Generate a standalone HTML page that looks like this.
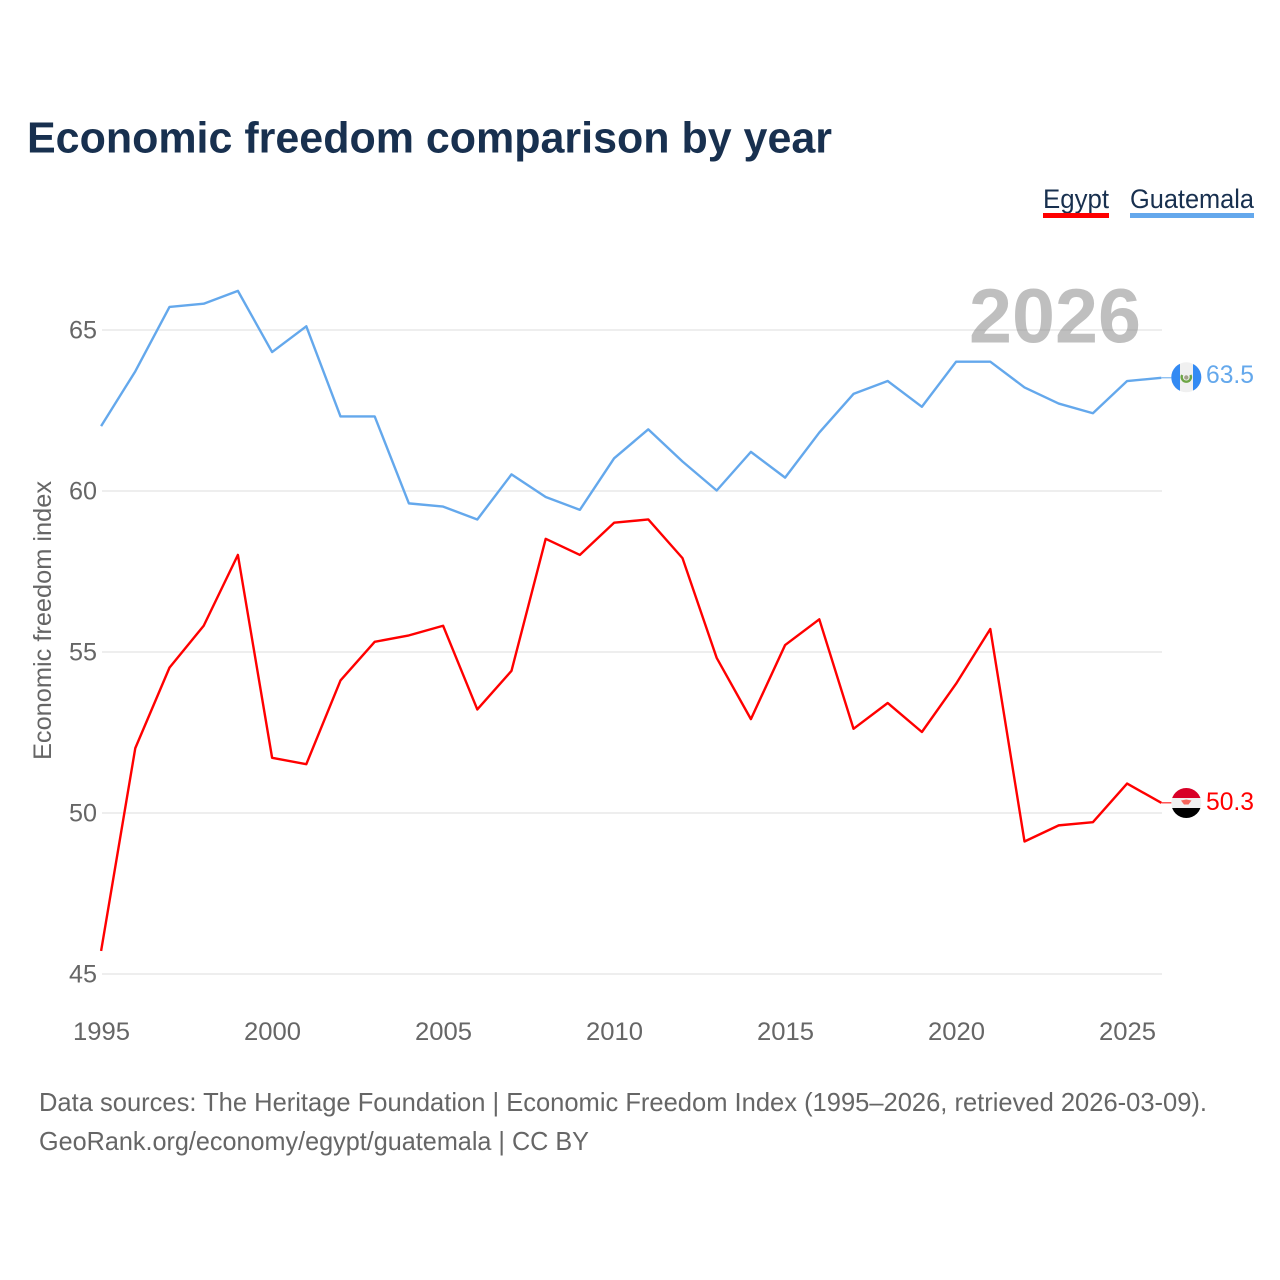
<!DOCTYPE html>
<html>
<head>
<meta charset="utf-8">
<style>
html,body{margin:0;padding:0;background:#fff;}
svg{display:block;font-family:"Liberation Sans",sans-serif;}
</style>
</head>
<body>
<svg id="chart" width="1280" height="1280" viewBox="0 0 1280 1280" xmlns="http://www.w3.org/2000/svg">
<defs>
<clipPath id="flag-clip-gt"><circle cx="1186.3" cy="377.3" r="15"/></clipPath>
<clipPath id="flag-clip-eg"><circle cx="1186.3" cy="803" r="15"/></clipPath>
</defs>
<rect x="0" y="0" width="1280" height="1280" fill="#fff"/>
<text x="27" y="152.5" font-size="44" font-weight="700" fill="#18304f" textLength="805" lengthAdjust="spacingAndGlyphs">Economic freedom comparison by year</text>
<g>
<g>
<text x="1043" y="208" font-size="27" fill="#18304f" textLength="66" lengthAdjust="spacingAndGlyphs">Egypt</text>
<rect x="1043" y="213" width="66" height="5" fill="#ff0000"/>
</g>
<g>
<text x="1130" y="208" font-size="27" fill="#18304f" textLength="124" lengthAdjust="spacingAndGlyphs">Guatemala</text>
<rect x="1130" y="213" width="124" height="5" fill="#64a8ec"/>
</g>
</g>
<g id="grid"></g>
<text x="969" y="342.5" font-size="77" font-weight="700" fill="#808080" fill-opacity="0.5" textLength="172" lengthAdjust="spacingAndGlyphs">2026</text>
<g id="yticks"></g>
<g id="xticks"></g>
<text transform="translate(51,620.5) rotate(-90)" text-anchor="middle" font-size="25" fill="#666" textLength="279" lengthAdjust="spacingAndGlyphs">Economic freedom index</text>
<g id="series"></g>
<g clip-path="url(#flag-clip-gt)">
<rect x="1171" y="362" width="31" height="31" fill="#f0f0f0"/>
<rect x="1171" y="362" width="9" height="31" fill="#338af3"/>
<rect x="1193" y="362" width="9" height="31" fill="#338af3"/>
<path d="M1182.2 375 A4.6 4.6 0 1 0 1190.4 375" fill="none" stroke="#6da544" stroke-width="2.4"/>
<circle cx="1186.3" cy="377.5" r="2.2" fill="#a2a08a"/>
</g>
<g clip-path="url(#flag-clip-eg)">
<rect x="1171" y="788" width="31" height="10" fill="#d80027"/>
<rect x="1171" y="798" width="31" height="10" fill="#f0f0f0"/>
<rect x="1171" y="808" width="31" height="10" fill="#000"/>
<path d="M1181 800.5 L1186.3 799.5 L1191.5 800.5 L1188.5 804.5 L1184 804.5 Z" fill="#f4645a"/>
</g>
<text x="1206" y="383" font-size="25" fill="#64a8ec" textLength="48" lengthAdjust="spacingAndGlyphs">63.5</text>
<text x="1206" y="810" font-size="25" fill="#ff0000" textLength="48" lengthAdjust="spacingAndGlyphs">50.3</text>
<text x="39" y="1111" font-size="26" fill="#666" textLength="1168" lengthAdjust="spacingAndGlyphs">Data sources: The Heritage Foundation | Economic Freedom Index (1995–2026, retrieved 2026-03-09).</text>
<text x="39" y="1150" font-size="26" fill="#666" textLength="550" lengthAdjust="spacingAndGlyphs">GeoRank.org/economy/egypt/guatemala | CC BY</text>
</svg>
<script>
const years = [1995,1996,1997,1998,1999,2000,2001,2002,2003,2004,2005,2006,2007,2008,2009,2010,2011,2012,2013,2014,2015,2016,2017,2018,2019,2020,2021,2022,2023,2024,2025,2026];
const egyptValues = [45.7,52,54.5,55.8,58,51.7,51.5,54.1,55.3,55.5,55.8,53.2,54.4,58.5,58,59,59.1,57.9,54.8,52.9,55.2,56,52.6,53.4,52.5,54,55.7,49.1,49.6,49.7,50.9,50.3];
const guatemalaValues = [62,63.7,65.7,65.8,66.2,64.3,65.1,62.3,62.3,59.6,59.5,59.1,60.5,59.8,59.4,61,61.9,60.9,60,61.2,60.4,61.8,63,63.4,62.6,64,64,63.2,62.7,62.4,63.4,63.5];
const yTickValues = [45,50,55,60,65];
const xTickValues = [1995,2000,2005,2010,2015,2020,2025];

const NS = 'http://www.w3.org/2000/svg';
function xScale(year){ return 101.1 + (year - 1995) * 34.2; }
function yScale(v){ return 973.5 - (v - 45) * 32.2; }

const grid = document.getElementById('grid');
const yticks = document.getElementById('yticks');
const xticks = document.getElementById('xticks');
const series = document.getElementById('series');

yTickValues.forEach(function(v){
  const line = document.createElementNS(NS,'line');
  
  
  line.setAttribute('x1', 102);
  line.setAttribute('x2', 1162);
  line.setAttribute('y1', yScale(v) + 0.5);
  line.setAttribute('y2', yScale(v) + 0.5);
  line.setAttribute('stroke', '#e9e9e9');
  line.setAttribute('stroke-width', '1.5');
  grid.appendChild(line);

  const t = document.createElementNS(NS,'text');
  
  
  t.setAttribute('x', 97);
  t.setAttribute('y', yScale(v) + 9);
  t.setAttribute('text-anchor', 'end');
  t.setAttribute('font-size', '25');
  t.setAttribute('fill', '#666');
  t.setAttribute('textLength', '28');
  t.setAttribute('lengthAdjust', 'spacingAndGlyphs');
  t.textContent = String(v);
  yticks.appendChild(t);
});

xTickValues.forEach(function(y){
  const t = document.createElementNS(NS,'text');
  
  
  t.setAttribute('x', xScale(y) + 0.4);
  t.setAttribute('y', 1040);
  t.setAttribute('text-anchor', 'middle');
  t.setAttribute('font-size', '25');
  t.setAttribute('fill', '#666');
  t.setAttribute('textLength', '57');
  t.setAttribute('lengthAdjust', 'spacingAndGlyphs');
  t.textContent = String(y);
  xticks.appendChild(t);
});

function seriesPath(values){
  return values.map(function(v,i){
    return (i ? 'L' : 'M') + xScale(years[i]).toFixed(2) + ' ' + yScale(v).toFixed(2);
  }).join(' ');
}

const egyptLine = document.createElementNS(NS,'path');


egyptLine.setAttribute('d', seriesPath(egyptValues));
egyptLine.setAttribute('fill', 'none');
egyptLine.setAttribute('stroke', '#ff0000');
egyptLine.setAttribute('stroke-width', '2.4');
egyptLine.setAttribute('stroke-linejoin', 'round');
series.appendChild(egyptLine);

const guatemalaLine = document.createElementNS(NS,'path');


guatemalaLine.setAttribute('d', seriesPath(guatemalaValues));
guatemalaLine.setAttribute('fill', 'none');
guatemalaLine.setAttribute('stroke', '#64a8ec');
guatemalaLine.setAttribute('stroke-width', '2.4');
guatemalaLine.setAttribute('stroke-linejoin', 'round');
series.appendChild(guatemalaLine);

const egyptConnector = document.createElementNS(NS,'line');


egyptConnector.setAttribute('x1', xScale(2026));
egyptConnector.setAttribute('x2', 1172);
egyptConnector.setAttribute('y1', yScale(egyptValues[egyptValues.length - 1]));
egyptConnector.setAttribute('y2', yScale(egyptValues[egyptValues.length - 1]));
egyptConnector.setAttribute('stroke', '#ff0000');
egyptConnector.setAttribute('stroke-width', '1');
series.appendChild(egyptConnector);

const guatemalaConnector = document.createElementNS(NS,'line');


guatemalaConnector.setAttribute('x1', xScale(2026));
guatemalaConnector.setAttribute('x2', 1172);
guatemalaConnector.setAttribute('y1', yScale(guatemalaValues[guatemalaValues.length - 1]));
guatemalaConnector.setAttribute('y2', yScale(guatemalaValues[guatemalaValues.length - 1]));
guatemalaConnector.setAttribute('stroke', '#64a8ec');
guatemalaConnector.setAttribute('stroke-width', '1');
series.appendChild(guatemalaConnector);
</script>
</body>
</html>
